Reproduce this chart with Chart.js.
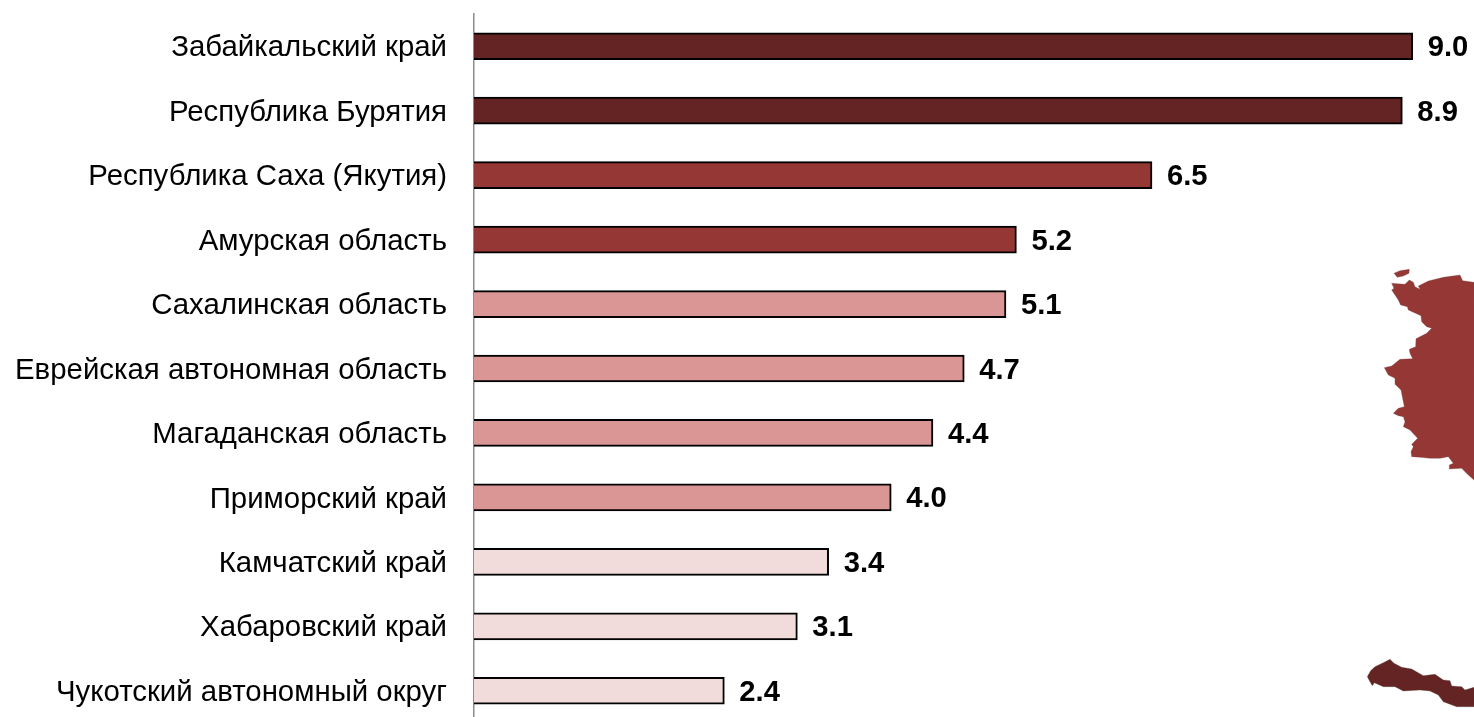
<!DOCTYPE html>
<html lang="ru"><head><meta charset="utf-8">
<style>
html,body{margin:0;padding:0;background:#fff;width:1474px;height:717px;overflow:hidden}
#wrap{position:relative;width:1474px;height:717px;overflow:hidden}
canvas{position:absolute;left:0;top:0}
svg{position:absolute;left:0;top:0;pointer-events:none}
</style>
<script src="https://cdn.jsdelivr.net/npm/chart.js@4"></script>
</head><body>
<div id="wrap">
<svg width="1474" height="717" viewBox="0 0 1474 717" aria-hidden="true">
<g transform="translate(1340 250) scale(.3333)" fill="#953735" stroke="#7a4a4a" stroke-width="1">
<path d="M162 70L180 62L208 58L207 70L190 78L172 82Z"/>
<path d="M155 100L195 103L208 90L220 97L225 110L240 118L235 108L265 93L310 82L360 75L368 92L402 97L402 690L385 675L365 655L328 657L328 645L340 640L325 620L300 625L270 625L240 622L215 620L213 605L220 590L215 583L233 565L210 540L190 530L195 515L190 500L175 497L160 490L175 475L193 470L183 420L165 403L165 385L145 375L133 353L155 348L180 328L218 326L210 310L208 298L227 290L228 266L260 250L275 235L260 230L245 215L243 197L205 180L202 170L182 165L175 150L165 135L155 120L162 115Z"/>
</g>
<g transform="translate(1340 640) scale(.3333)" fill="#632423" stroke="#5a3a3a" stroke-width="1">
<path d="M82 110L92 92L105 80L130 68L150 58L162 70L185 82L215 87L250 107L285 103L310 120L330 122L335 138L365 140L375 150L402 142L402 200L350 200L310 185L295 165L270 153L240 150L190 153L165 140L130 140L103 128L97 137L90 125Z"/>
</g>
</svg>
<canvas id="c" width="1474" height="724" style="width:1474px;height:724px"></canvas>
</div>
<script>
const categories = ["Забайкальский край","Республика Бурятия","Республика Саха (Якутия)","Амурская область","Сахалинская область","Еврейская автономная область","Магаданская область","Приморский край","Камчатский край","Хабаровский край","Чукотский автономный округ"];
const values = [9.0,8.9,6.5,5.2,5.1,4.7,4.4,4.0,3.4,3.1,2.4];
const barColors = ["#632423","#632423","#953735","#953735","#D99694","#D99694","#D99694","#D99694","#F2DCDB","#F2DCDB","#F2DCDB"];
const FONT = '"Liberation Sans", Arial, sans-serif';
const TICK_FONT_SIZE = 29.4;
const VALUE_FONT_SIZE = 29.2;

const valueLabels = {
  id:'valueLabels',
  afterDatasetsDraw(chart){
    const {ctx} = chart;
    const meta = chart.getDatasetMeta(0);
    ctx.save();
    ctx.font = `bold ${VALUE_FONT_SIZE}px ${FONT}`;
    ctx.fillStyle = '#000';
    ctx.textAlign = 'left';
    ctx.textBaseline = 'middle';
    meta.data.forEach((el,i)=>{
      ctx.fillText(values[i].toFixed(1), el.x + 15, el.y + 2);
    });
    ctx.restore();
  }
};

new Chart(document.getElementById('c'),{
  type:'bar',
  data:{labels:categories,datasets:[{
    data:values,
    backgroundColor:barColors,
    borderColor:'#000',
    borderWidth:2,
    barThickness:27
  }]},
  plugins:[valueLabels],
  options:{
    indexAxis:'y',
    responsive:false,
    animation:false,
    devicePixelRatio:1,
    layout:{padding:{top:14,bottom:1,left:0,right:0}},
    plugins:{legend:{display:false},tooltip:{enabled:false}},
    scales:{
      x:{display:false,min:0,max:9.587,grid:{display:false}},
      y:{
        afterFit(s){s.width=474;s.paddingTop=0;s.paddingBottom=0;},
        grid:{display:false,drawTicks:false},
        border:{display:true,color:'#8c8c8c',width:1.5},
        ticks:{color:'#000',padding:27,labelOffset:2,autoSkip:false,font:{family:FONT,size:TICK_FONT_SIZE}}
      }
    }
  }
});
</script>
</body></html>
